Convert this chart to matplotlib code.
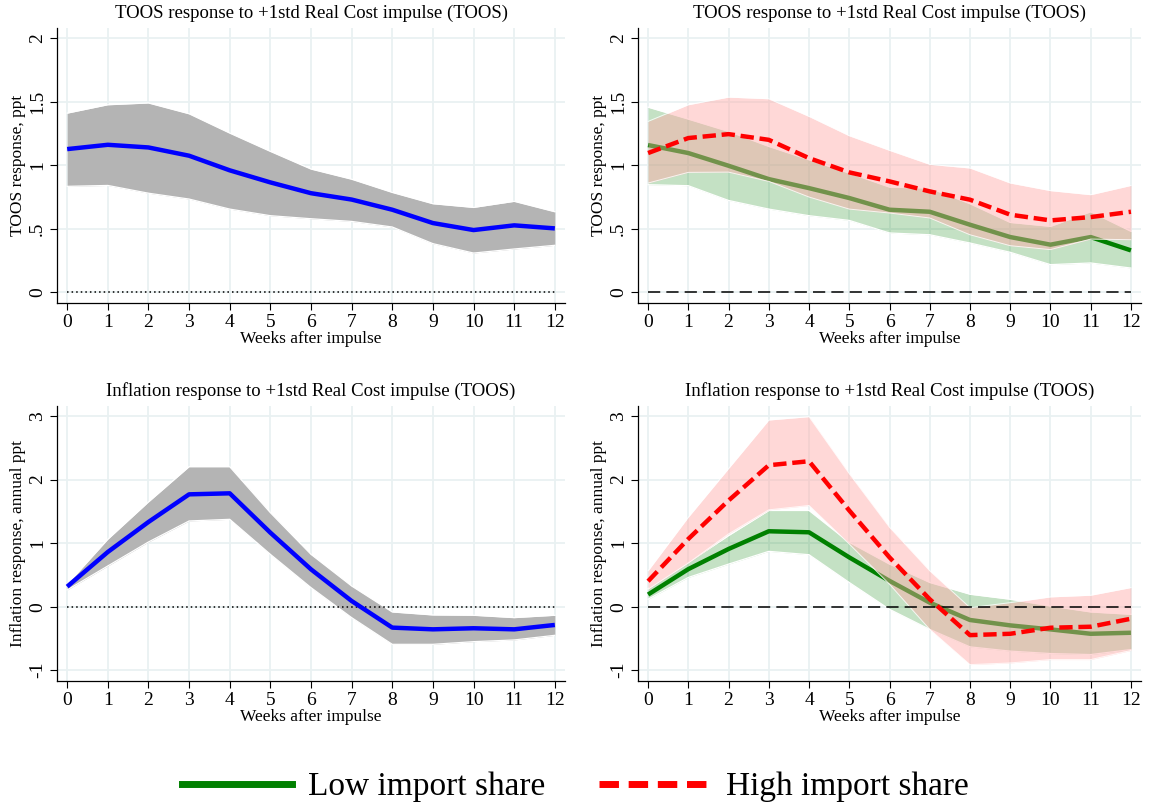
import matplotlib
matplotlib.use("Agg")
import matplotlib.pyplot as plt
from matplotlib.lines import Line2D
import numpy as np

plt.rcParams['font.family'] = ['Liberation Serif', 'DejaVu Serif']

weeks = np.arange(13)

# Pooled responses (TOOS)
toos_mean = [1.127, 1.161, 1.140, 1.075, 0.960, 0.865, 0.780, 0.730, 0.650, 0.545, 0.490, 0.527, 0.503]
toos_hi = [1.410, 1.476, 1.490, 1.405, 1.253, 1.109, 0.970, 0.890, 0.786, 0.697, 0.668, 0.716, 0.634]
toos_lo = [0.834, 0.841, 0.780, 0.734, 0.655, 0.603, 0.579, 0.558, 0.514, 0.383, 0.309, 0.341, 0.370]

infl_mean = [0.315, 0.860, 1.332, 1.767, 1.783, 1.164, 0.587, 0.089, -0.330, -0.357, -0.340, -0.357, -0.288]
infl_hi = [0.351, 1.060, 1.647, 2.202, 2.202, 1.479, 0.823, 0.325, -0.084, -0.131, -0.136, -0.173, -0.136]
infl_lo = [0.262, 0.640, 1.017, 1.348, 1.374, 0.823, 0.299, -0.173, -0.593, -0.593, -0.551, -0.524, -0.451]

# Split by import share: TOOS
toos_low_mean = [1.159, 1.096, 0.996, 0.891, 0.820, 0.742, 0.650, 0.634, 0.532, 0.435, 0.375, 0.435, 0.330]
toos_low_hi = [1.457, 1.363, 1.266, 1.148, 1.043, 0.938, 0.828, 0.820, 0.697, 0.550, 0.519, 0.634, 0.480]
toos_low_lo = [0.847, 0.839, 0.723, 0.655, 0.603, 0.566, 0.467, 0.453, 0.388, 0.315, 0.218, 0.231, 0.191]

toos_high_mean = [1.096, 1.214, 1.245, 1.200, 1.056, 0.944, 0.873, 0.794, 0.729, 0.611, 0.566, 0.592, 0.634]
toos_high_hi = [1.345, 1.476, 1.536, 1.523, 1.384, 1.232, 1.117, 1.007, 0.978, 0.860, 0.800, 0.768, 0.841]
toos_high_lo = [0.860, 0.944, 0.946, 0.873, 0.750, 0.655, 0.624, 0.585, 0.453, 0.367, 0.336, 0.419, 0.414]

# Split by import share: inflation
infl_low_mean = [0.190, 0.590, 0.907, 1.186, 1.170, 0.775, 0.406, 0.063, -0.210, -0.295, -0.358, -0.427, -0.411]
infl_low_hi = [0.285, 0.696, 1.118, 1.513, 1.513, 1.012, 0.669, 0.380, 0.195, 0.116, 0.010, -0.084, -0.121]
infl_low_lo = [0.116, 0.459, 0.669, 0.870, 0.817, 0.380, -0.042, -0.358, -0.633, -0.700, -0.738, -0.754, -0.675]

infl_high_mean = [0.400, 1.065, 1.670, 2.225, 2.288, 1.513, 0.775, 0.116, -0.448, -0.427, -0.332, -0.316, -0.190]
infl_high_hi = [0.564, 1.407, 2.172, 2.936, 2.989, 2.093, 1.249, 0.564, -0.016, 0.063, 0.153, 0.179, 0.300]
infl_high_lo = [0.274, 0.685, 1.144, 1.523, 1.592, 0.986, 0.353, -0.358, -0.912, -0.886, -0.833, -0.833, -0.690]

title_toos = "TOOS response to +1std Real Cost impulse (TOOS)"
title_infl = "Inflation response to +1std Real Cost impulse (TOOS)"
ylab_toos = "TOOS response, ppt"
ylab_infl = "Inflation response, annual ppt"
xlab = "Weeks after impulse"

toos_ticks = [0, 0.5, 1, 1.5, 2]
toos_ticklabels = ["0", ".5", "1", "1.5", "2"]
infl_ticks = [-1, 0, 1, 2, 3]
infl_ticklabels = ["-1", "0", "1", "2", "3"]

GRID = "#e9f1f2"
BAND_GRAY = "#b4b4b4"
BLUE = "#0000ff"
GREEN = "#008000"
RED = "#ff0000"
PINK = "#ffa9a7"

fig = plt.figure(figsize=(11.5, 8.07), dpi=100)

W, H = 1150, 807
def add_ax(left, right, top, bottom):
    return fig.add_axes([left / W, 1 - bottom / H, (right - left) / W, (bottom - top) / H])

ax_tl = add_ax(57, 565, 28, 303)
ax_tr = add_ax(638, 1141, 28, 303)
ax_bl = add_ax(57, 565, 406, 681)
ax_br = add_ax(638, 1141, 406, 681)


def style(ax, title, ylabel, yticks, yticklabels, ylim):
    ax.set_xlim(-0.25, 12.25)
    ax.set_ylim(*ylim)
    ax.set_xticks(weeks)
    ax.set_yticks(yticks)
    ax.set_yticklabels(yticklabels, rotation=90, va="center")
    ax.tick_params(axis="both", labelsize=14, length=5, width=0.8, direction="out", pad=3)
    ax.grid(True, color=GRID, lw=1.3, zorder=0)
    ax.set_axisbelow(True)
    for s in ["top", "right"]:
        ax.spines[s].set_visible(False)
    for s in ["left", "bottom"]:
        ax.spines[s].set_linewidth(0.9)
    ax.set_title(title, fontsize=13.5, pad=7)
    ax.set_ylabel(ylabel, fontsize=12.5, labelpad=2)
    ax.set_xlabel(xlab, fontsize=12.5, labelpad=0)


# Pooled panels
for ax, lo, hi, mean, title, ylab, yt, ytl, yl in [
    (ax_tl, toos_lo, toos_hi, toos_mean, title_toos, ylab_toos, toos_ticks, toos_ticklabels, (-0.084, 2.08)),
    (ax_bl, infl_lo, infl_hi, infl_mean, title_infl, ylab_infl, infl_ticks, infl_ticklabels, (-1.17, 3.157)),
]:
    ax.fill_between(weeks, lo, hi, color=BAND_GRAY, lw=0, zorder=2)
    ax.plot(weeks, lo, color="white", lw=0.9, zorder=2.1)
    ax.plot(weeks, hi, color="white", lw=0.9, zorder=2.1)
    ax.axhline(0, xmin=0.02, xmax=0.98, color="black", lw=1.1, ls=(0, (1, 2)), zorder=3)
    ax.plot(weeks, mean, color=BLUE, lw=3.2, zorder=4, solid_capstyle="butt")
    style(ax, title, ylab, yt, ytl, yl)

# Import-share panels
for ax, (llo, lhi, lmean), (hlo, hhi, hmean), title, ylab, yt, ytl, yl in [
    (ax_tr, (toos_low_lo, toos_low_hi, toos_low_mean), (toos_high_lo, toos_high_hi, toos_high_mean),
     title_toos, ylab_toos, toos_ticks, toos_ticklabels, (-0.084, 2.08)),
    (ax_br, (infl_low_lo, infl_low_hi, infl_low_mean), (infl_high_lo, infl_high_hi, infl_high_mean),
     title_infl, ylab_infl, infl_ticks, infl_ticklabels, (-1.17, 3.157)),
]:
    ax.fill_between(weeks, llo, lhi, color=GREEN, alpha=0.23, lw=0, zorder=2)
    ax.plot(weeks, llo, color="white", lw=0.9, zorder=2.1)
    ax.plot(weeks, lhi, color="white", lw=0.9, zorder=2.1)
    ax.plot(weeks, lmean, color=GREEN, lw=3.2, zorder=2.2, solid_capstyle="butt")
    ax.fill_between(weeks, hlo, hhi, color=PINK, alpha=0.45, lw=0, zorder=2.3)
    ax.plot(weeks, hlo, color="white", lw=0.7, alpha=0.8, zorder=2.4)
    ax.plot(weeks, hhi, color="white", lw=0.7, alpha=0.8, zorder=2.4)
    ax.axhline(0, xmin=0.02, xmax=0.98, color="black", lw=1.1, ls=(0, (8, 4)), zorder=3)
    ax.plot(weeks, hmean, color=RED, lw=3.2, ls=(0, (3.0, 1.3)), zorder=4)
    style(ax, title, ylab, yt, ytl, yl)

handles = [
    Line2D([], [], color=GREEN, lw=5),
    Line2D([], [], color=RED, lw=5, ls=(0, (2.8, 1.4))),
]
fig.legend(handles, ["Low import share", "High import share"], loc="center",
           bbox_to_anchor=(0.5, 1 - 787 / H), ncol=2, frameon=False, fontsize=24,
           handlelength=3.3, handletextpad=0.5, columnspacing=1.6)

fig.savefig("out.png", dpi=100, facecolor="white")
